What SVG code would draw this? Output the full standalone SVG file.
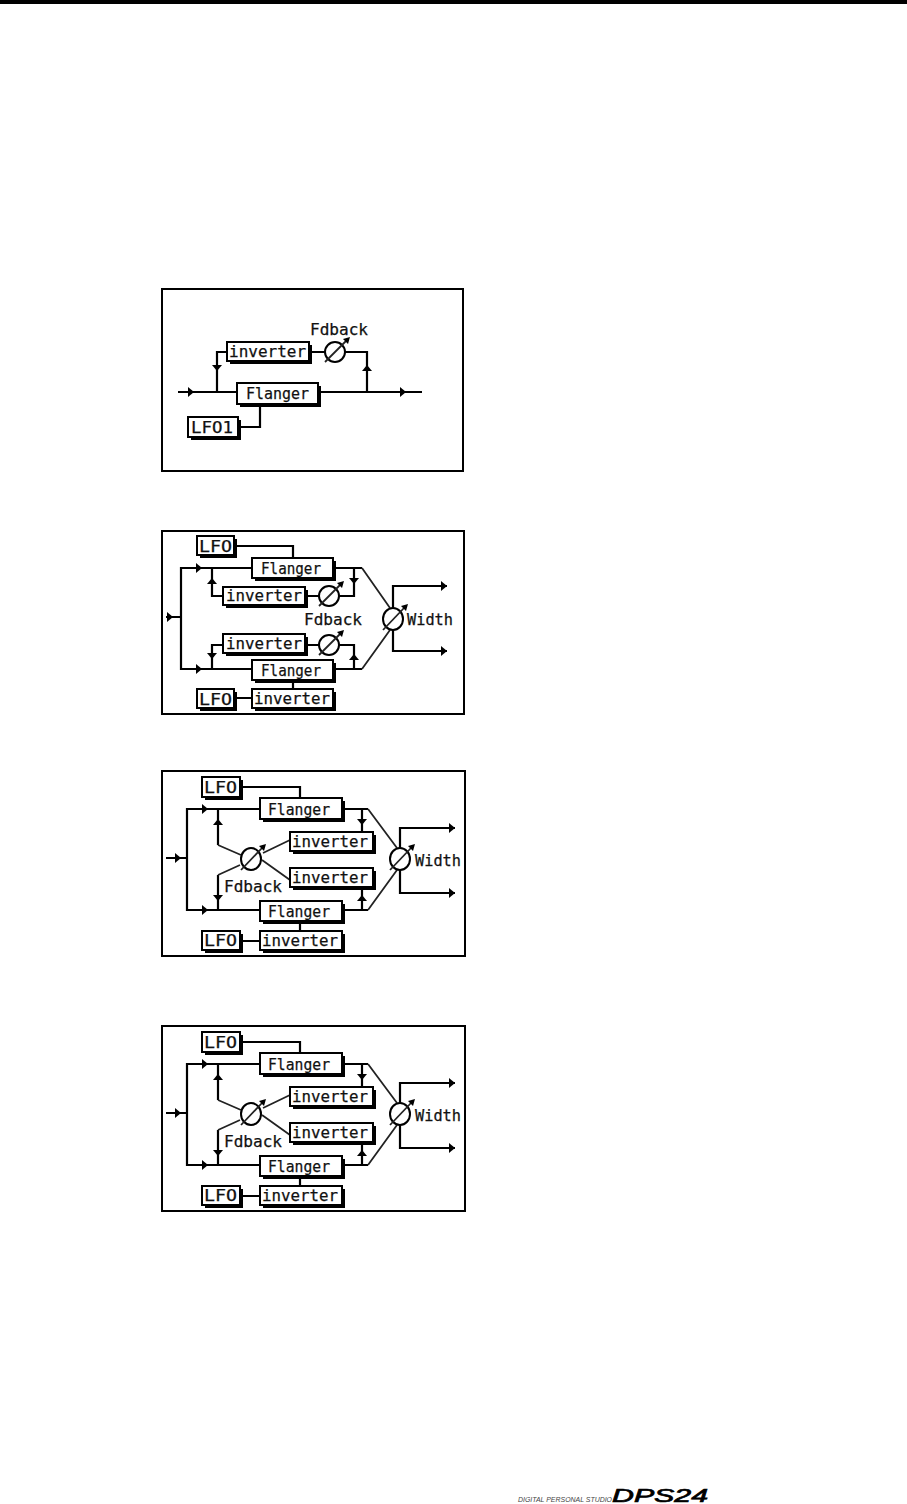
<svg xmlns="http://www.w3.org/2000/svg" xmlns:xlink="http://www.w3.org/1999/xlink" width="907" height="1504" viewBox="0 0 907 1504">
<style>
.panel{fill:#fff;stroke:#000;stroke-width:2}
.w{fill:none;stroke:#000;stroke-width:2.2}
.d{fill:none;stroke:#222;stroke-width:1.8}
.s{fill:#000}
.b{fill:#fff;stroke:#000;stroke-width:2}
.k{fill:#fff;stroke:#000;stroke-width:2}
.t{font-family:"DejaVu Sans Mono",monospace;font-size:16px;fill:#111;stroke:#111;stroke-width:.25}
</style>
<defs>
<path id="ar" d="M-3 -5 L3 0 L-3 5 Z" fill="#000"/>
<path id="au" d="M-5 3 L0 -3 L5 3 Z" fill="#000"/>
<path id="ad" d="M-5 -3 L0 3 L5 -3 Z" fill="#000"/>
<path id="kt" d="M-3 -2 L4 -4 L2 3 Z" fill="#000"/>
</defs>
<rect x="0" y="0" width="907" height="1504" fill="#fff"/>
<rect x="0" y="0" width="907" height="4" fill="#000"/>

<g id="panels">
<rect class="panel" x="162" y="289" width="301" height="182"/>
<rect class="panel" x="162" y="531" width="302" height="183"/>
<rect class="panel" x="162" y="771" width="303" height="185"/>
<rect class="panel" x="162" y="1026" width="303" height="185"/>
</g>

<g id="connectors">
<!-- panel 1 -->
<path class="w" d="M178 392H422M227 352H217V392M309 352H325M345 352H367V392M238 427H260V405"/>
<use xlink:href="#ar" x="191" y="392"/><use xlink:href="#ar" x="403" y="392"/><use xlink:href="#ad" x="217" y="368"/><use xlink:href="#au" x="367" y="368"/>
<!-- panel 2 -->
<path class="w" d="M234 546H293V558M252 568H181V669H252M166 617H181M212 568V596H223M305 596H319M339 596H354V568M333 568H362M223 645H212V669M305 645H319M339 645H354V669M333 669H362M393 608V586H447M393 630V651H447M234 698H252M293 680V689"/>
<path class="d" d="M362 568L390 608M362 669L390 630"/>
<use xlink:href="#ar" x="199" y="568"/><use xlink:href="#ar" x="199" y="669"/><use xlink:href="#ar" x="170" y="617"/><use xlink:href="#au" x="212" y="581"/><use xlink:href="#ad" x="354" y="581"/><use xlink:href="#ad" x="212" y="656"/><use xlink:href="#au" x="354" y="657"/><use xlink:href="#ar" x="444" y="586"/><use xlink:href="#ar" x="444" y="651"/>
<!-- panel 3 -->
<path class="w" d="M240 787H300V798M260 809H187V910H260M166 858H187M218 809V845M218 875V910M362 809V832M362 888V910M342 809H368M342 910H368M400 848V828H455M400 870V893H455M240 941H260M300 922V932"/>
<path class="d" d="M218 845L241 855M263 853L290 840M262 860L290 880M240 865L218 875M368 809L397 848M368 910L397 870"/>
<use xlink:href="#ar" x="205" y="809"/><use xlink:href="#ar" x="205" y="910"/><use xlink:href="#ar" x="178" y="858"/><use xlink:href="#au" x="218" y="822"/><use xlink:href="#ad" x="218" y="898"/><use xlink:href="#ad" x="362" y="822"/><use xlink:href="#au" x="362" y="898"/><use xlink:href="#ar" x="452" y="828"/><use xlink:href="#ar" x="452" y="893"/>
<!-- panel 4 -->
<path class="w" d="M240 1042H300V1053M260 1064H187V1165H260M166 1113H187M218 1064V1100M218 1130V1165M362 1064V1087M362 1143V1165M342 1064H368M342 1165H368M400 1103V1083H455M400 1125V1148H455M240 1196H260M300 1177V1187"/>
<path class="d" d="M218 1100L241 1110M263 1108L290 1095M262 1115L290 1135M240 1120L218 1130M368 1064L397 1103M368 1165L397 1125"/>
<use xlink:href="#ar" x="205" y="1064"/><use xlink:href="#ar" x="205" y="1165"/><use xlink:href="#ar" x="178" y="1113"/><use xlink:href="#au" x="218" y="1077"/><use xlink:href="#ad" x="218" y="1153"/><use xlink:href="#ad" x="362" y="1077"/><use xlink:href="#au" x="362" y="1153"/><use xlink:href="#ar" x="452" y="1083"/><use xlink:href="#ar" x="452" y="1148"/>
</g>

<!-- panel 1 nodes -->
<g id="p1-inverter"><rect class="s" x="230" y="345" width="82" height="19"/><rect class="b" x="227" y="342" width="82" height="19"/><text class="t" x="229" y="357" textLength="77" lengthAdjust="spacingAndGlyphs">inverter</text></g>
<g id="p1-knob"><ellipse class="k" cx="335" cy="352" rx="10" ry="10"/><path class="d" d="M325 362L346 341"/><use xlink:href="#kt" x="346" y="341"/></g>
<g id="p1-fdback"><text class="t" x="310" y="335" textLength="58" lengthAdjust="spacingAndGlyphs">Fdback</text></g>
<g id="p1-flanger"><rect class="s" x="240" y="386" width="81" height="21"/><rect class="b" x="237" y="383" width="81" height="21"/><text class="t" x="246" y="399" textLength="63" lengthAdjust="spacingAndGlyphs">Flanger</text></g>
<g id="p1-lfo1"><rect class="s" x="191" y="420" width="50" height="20"/><rect class="b" x="188" y="417" width="50" height="20"/><text class="t" x="191" y="433" textLength="42" lengthAdjust="spacingAndGlyphs">LFO1</text></g>

<!-- panel 2 nodes -->
<g id="p2-lfo-top"><rect class="s" x="200" y="539" width="37" height="19"/><rect class="b" x="197" y="536" width="37" height="19"/><text class="t" x="199" y="552" textLength="33" lengthAdjust="spacingAndGlyphs">LFO</text></g>
<g id="p2-flanger-top"><rect class="s" x="255" y="561" width="81" height="20"/><rect class="b" x="252" y="558" width="81" height="20"/><text class="t" x="261" y="574" textLength="60" lengthAdjust="spacingAndGlyphs">Flanger</text></g>
<g id="p2-inverter-top"><rect class="s" x="226" y="590" width="82" height="18"/><rect class="b" x="223" y="587" width="82" height="18"/><text class="t" x="226" y="601" textLength="76" lengthAdjust="spacingAndGlyphs">inverter</text></g>
<g id="p2-knob-top"><ellipse class="k" cx="329" cy="596" rx="10" ry="10"/><path class="d" d="M319 606L340 585"/><use xlink:href="#kt" x="340" y="585"/></g>
<g id="p2-fdback"><text class="t" x="304" y="625" textLength="58" lengthAdjust="spacingAndGlyphs">Fdback</text></g>
<g id="p2-inverter-low"><rect class="s" x="226" y="637" width="82" height="19"/><rect class="b" x="223" y="634" width="82" height="19"/><text class="t" x="226" y="649" textLength="76" lengthAdjust="spacingAndGlyphs">inverter</text></g>
<g id="p2-knob-low"><ellipse class="k" cx="329" cy="645" rx="10" ry="10"/><path class="d" d="M319 655L340 634"/><use xlink:href="#kt" x="340" y="634"/></g>
<g id="p2-flanger-low"><rect class="s" x="255" y="663" width="81" height="20"/><rect class="b" x="252" y="660" width="81" height="20"/><text class="t" x="261" y="676" textLength="60" lengthAdjust="spacingAndGlyphs">Flanger</text></g>
<g id="p2-lfo-low"><rect class="s" x="200" y="692" width="37" height="19"/><rect class="b" x="197" y="689" width="37" height="19"/><text class="t" x="199" y="705" textLength="33" lengthAdjust="spacingAndGlyphs">LFO</text></g>
<g id="p2-inverter-bottom"><rect class="s" x="255" y="692" width="81" height="19"/><rect class="b" x="252" y="689" width="81" height="19"/><text class="t" x="254" y="704" textLength="76" lengthAdjust="spacingAndGlyphs">inverter</text></g>
<g id="p2-width"><ellipse class="k" cx="393" cy="619" rx="10" ry="11"/><path class="d" d="M383 630L404 608"/><use xlink:href="#kt" x="404" y="608"/><text class="t" x="407" y="625" textLength="46" lengthAdjust="spacingAndGlyphs">Width</text></g>

<!-- panel 3 nodes -->
<g id="p3-lfo-top"><rect class="s" x="205" y="780" width="38" height="20"/><rect class="b" x="202" y="777" width="38" height="20"/><text class="t" x="204" y="793" textLength="33" lengthAdjust="spacingAndGlyphs">LFO</text></g>
<g id="p3-flanger-top"><rect class="s" x="263" y="801" width="82" height="21"/><rect class="b" x="260" y="798" width="82" height="21"/><text class="t" x="268" y="815" textLength="62" lengthAdjust="spacingAndGlyphs">Flanger</text></g>
<g id="p3-inverter-top"><rect class="s" x="293" y="835" width="83" height="19"/><rect class="b" x="290" y="832" width="83" height="19"/><text class="t" x="292" y="847" textLength="76" lengthAdjust="spacingAndGlyphs">inverter</text></g>
<g id="p3-inverter-low"><rect class="s" x="293" y="871" width="83" height="19"/><rect class="b" x="290" y="868" width="83" height="19"/><text class="t" x="292" y="883" textLength="76" lengthAdjust="spacingAndGlyphs">inverter</text></g>
<g id="p3-knob"><ellipse class="k" cx="251" cy="859" rx="10" ry="11"/><path class="d" d="M241 870L262 848"/><use xlink:href="#kt" x="262" y="848"/></g>
<g id="p3-fdback"><text class="t" x="224" y="892" textLength="58" lengthAdjust="spacingAndGlyphs">Fdback</text></g>
<g id="p3-flanger-low"><rect class="s" x="263" y="904" width="82" height="20"/><rect class="b" x="260" y="901" width="82" height="20"/><text class="t" x="268" y="917" textLength="62" lengthAdjust="spacingAndGlyphs">Flanger</text></g>
<g id="p3-lfo-low"><rect class="s" x="205" y="934" width="38" height="19"/><rect class="b" x="202" y="931" width="38" height="19"/><text class="t" x="204" y="946" textLength="33" lengthAdjust="spacingAndGlyphs">LFO</text></g>
<g id="p3-inverter-bottom"><rect class="s" x="263" y="934" width="82" height="19"/><rect class="b" x="260" y="931" width="82" height="19"/><text class="t" x="262" y="946" textLength="76" lengthAdjust="spacingAndGlyphs">inverter</text></g>
<g id="p3-width"><ellipse class="k" cx="400" cy="859" rx="10" ry="11"/><path class="d" d="M390 870L411 848"/><use xlink:href="#kt" x="411" y="848"/><text class="t" x="415" y="866" textLength="46" lengthAdjust="spacingAndGlyphs">Width</text></g>

<!-- panel 4 nodes -->
<g id="p4-lfo-top"><rect class="s" x="205" y="1035" width="38" height="20"/><rect class="b" x="202" y="1032" width="38" height="20"/><text class="t" x="204" y="1048" textLength="33" lengthAdjust="spacingAndGlyphs">LFO</text></g>
<g id="p4-flanger-top"><rect class="s" x="263" y="1056" width="82" height="21"/><rect class="b" x="260" y="1053" width="82" height="21"/><text class="t" x="268" y="1070" textLength="62" lengthAdjust="spacingAndGlyphs">Flanger</text></g>
<g id="p4-inverter-top"><rect class="s" x="293" y="1090" width="83" height="19"/><rect class="b" x="290" y="1087" width="83" height="19"/><text class="t" x="292" y="1102" textLength="76" lengthAdjust="spacingAndGlyphs">inverter</text></g>
<g id="p4-inverter-low"><rect class="s" x="293" y="1126" width="83" height="19"/><rect class="b" x="290" y="1123" width="83" height="19"/><text class="t" x="292" y="1138" textLength="76" lengthAdjust="spacingAndGlyphs">inverter</text></g>
<g id="p4-knob"><ellipse class="k" cx="251" cy="1114" rx="10" ry="11"/><path class="d" d="M241 1125L262 1103"/><use xlink:href="#kt" x="262" y="1103"/></g>
<g id="p4-fdback"><text class="t" x="224" y="1147" textLength="58" lengthAdjust="spacingAndGlyphs">Fdback</text></g>
<g id="p4-flanger-low"><rect class="s" x="263" y="1159" width="82" height="20"/><rect class="b" x="260" y="1156" width="82" height="20"/><text class="t" x="268" y="1172" textLength="62" lengthAdjust="spacingAndGlyphs">Flanger</text></g>
<g id="p4-lfo-low"><rect class="s" x="205" y="1189" width="38" height="19"/><rect class="b" x="202" y="1186" width="38" height="19"/><text class="t" x="204" y="1201" textLength="33" lengthAdjust="spacingAndGlyphs">LFO</text></g>
<g id="p4-inverter-bottom"><rect class="s" x="263" y="1189" width="82" height="19"/><rect class="b" x="260" y="1186" width="82" height="19"/><text class="t" x="262" y="1201" textLength="76" lengthAdjust="spacingAndGlyphs">inverter</text></g>
<g id="p4-width"><ellipse class="k" cx="400" cy="1114" rx="10" ry="11"/><path class="d" d="M390 1125L411 1103"/><use xlink:href="#kt" x="411" y="1103"/><text class="t" x="415" y="1121" textLength="46" lengthAdjust="spacingAndGlyphs">Width</text></g>

<g id="logo">
<text x="518" y="1502" textLength="94" lengthAdjust="spacingAndGlyphs" font-family="'Liberation Sans',sans-serif" font-style="italic" font-size="7" fill="#444">DIGITAL PERSONAL STUDIO</text>
<text x="612" y="1502" textLength="96" lengthAdjust="spacingAndGlyphs" font-family="'Liberation Sans',sans-serif" font-style="italic" font-size="19" fill="#000" stroke="#000" stroke-width=".7">DPS24</text>
</g>
</svg>
